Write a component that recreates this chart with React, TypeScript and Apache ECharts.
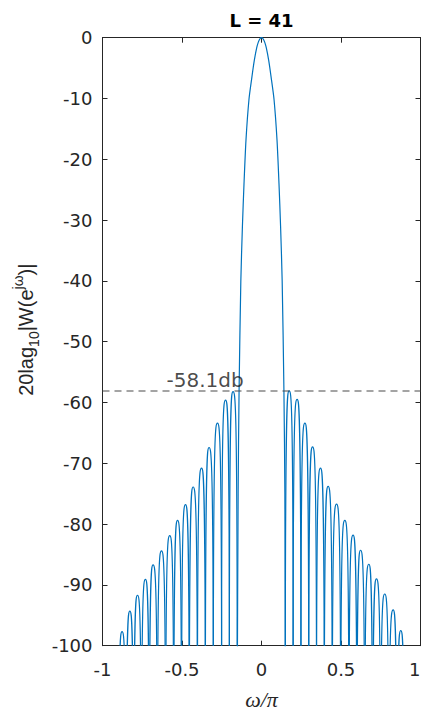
import React, { useEffect, useRef } from "react";
import * as echarts from "echarts";

// ---- values ----
const TITLE = "L = 41";
const X_MIN = -1;
const X_MAX = 1;
const X_STEP = 0.5;
const Y_MIN = -100;
const Y_MAX = 0;
const Y_STEP = 10;

// main lobe (omega/pi, dB)
const mainLobeX = [-0.153, -0.147, -0.141, -0.13, -0.12, -0.11, -0.0975, -0.079, -0.06, -0.045, -0.03, -0.02, -0.01, 0, 0.01, 0.02, 0.03, 0.045, 0.06, 0.079, 0.0975, 0.11, 0.12, 0.13, 0.141, 0.147, 0.15];
const mainLobeDb = [-112, -75, -58, -40, -31, -24, -16.8, -10.2, -6.4, -3.7, -1.65, -0.73, -0.18, 0, -0.18, -0.73, -1.65, -3.7, -6.4, -10.2, -16.8, -24, -31, -40, -58, -75, -112];

// right side lobes
const rightNullX = [0.15, 0.199, 0.248, 0.297, 0.346, 0.395, 0.445, 0.498, 0.55, 0.6, 0.649, 0.699, 0.749, 0.801, 0.852, 0.9];
const rightPeakX = [0.174, 0.224, 0.273, 0.321, 0.371, 0.419, 0.472, 0.524, 0.576, 0.623, 0.675, 0.723, 0.775, 0.828, 0.876];
const rightPeakDb = [-58.1, -59.5, -63.4, -67.3, -70.8, -73.8, -76.7, -79.4, -81.8, -84.3, -86.6, -89.0, -91.5, -94.1, -97.5];

// left side lobes
const leftNullX = [-0.153, -0.202, -0.251, -0.303, -0.353, -0.403, -0.454, -0.503, -0.552, -0.603, -0.655, -0.706, -0.755, -0.804, -0.852, -0.901];
const leftPeakX = [-0.179, -0.226, -0.277, -0.33, -0.377, -0.43, -0.478, -0.528, -0.577, -0.629, -0.682, -0.73, -0.78, -0.828, -0.877];
const leftPeakDb = [-58.2, -59.6, -63.4, -67.4, -70.8, -73.9, -76.8, -79.4, -81.9, -84.4, -86.7, -89.1, -91.7, -94.3, -97.7];

// reference level and its annotation
const REF_LEVEL = -58.1;
const REF_LABEL = "-58.1db";
const REF_LABEL_X = -0.597;
const REF_LABEL_Y = -56.3;

const LINE_COLOR = "#0072BD";
const AXIS_COLOR = "#262626";
const FONT = "DejaVu Sans";
const NAME_FONT = "Liberation Sans";

export default function App() {
  const ref = useRef<HTMLDivElement>(null);

  useEffect(() => {
    if (!ref.current) return;
    const chart = echarts.init(ref.current, undefined, { renderer: "svg" });

    const mainData = mainLobeX.map((x, i) => [x, mainLobeDb[i]]);
    const lobes: number[][] = [];
    for (let i = 0; i < rightPeakX.length; i++) {
      lobes.push([rightNullX[i], rightNullX[i + 1], rightPeakX[i], rightPeakDb[i]]);
    }
    for (let i = 0; i < leftPeakX.length; i++) {
      lobes.push([leftNullX[i + 1], leftNullX[i], leftPeakX[i], leftPeakDb[i]]);
    }

    const axisLine = { show: true, onZero: false, lineStyle: { color: AXIS_COLOR, width: 1 } };
    const axisTick = { show: true, inside: true, length: 5, lineStyle: { color: AXIS_COLOR } };

    const axisCommonX = {
      type: "value" as const,
      min: X_MIN,
      max: X_MAX,
      interval: X_STEP,
      axisLine,
      axisTick,
      splitLine: { show: false },
    };
    const axisCommonY = {
      type: "value" as const,
      min: Y_MIN,
      max: Y_MAX,
      interval: Y_STEP,
      axisLine,
      axisTick,
      splitLine: { show: false },
    };

    chart.setOption({
      animation: false,
      backgroundColor: "#ffffff",
      grid: {
        left: 102.5,
        right: 1.5,
        top: 37.7,
        bottom: 69.3,
        containLabel: false,
        outerBoundsMode: "none",
      },
      xAxis: [
        {
          ...axisCommonX,
          position: "bottom",
          name: "ω/π",
          nameLocation: "middle",
          nameGap: 43,
          nameTextStyle: { fontFamily: "Liberation Serif", fontStyle: "italic", fontSize: 22, color: AXIS_COLOR },
          axisLabel: {
            show: true,
            margin: 15,
            fontFamily: FONT,
            fontSize: 18,
            color: AXIS_COLOR,
            hideOverlap: false,
            alignMaxLabel: "right",
            formatter: (v: number) => String(v),
          },
        },
        {
          ...axisCommonX,
          position: "top",
          name: TITLE,
          nameLocation: "middle",
          nameGap: 8,
          nameTextStyle: { fontFamily: FONT, fontWeight: "bold", fontSize: 18, color: "#000" },
          axisLabel: { show: false },
        },
      ],
      yAxis: [
        {
          ...axisCommonY,
          position: "left",
          name: "{b|20lag}{s|10}{b||W(e}{p|jω}{b|)|}",
          nameLocation: "middle",
          nameRotate: 90,
          nameGap: 60,
          nameTextStyle: {
            color: AXIS_COLOR,
            fontFamily: NAME_FONT,
            fontSize: 20,
            padding: [0, 0, 0, 24],
            rich: {
              b: { fontFamily: NAME_FONT, fontSize: 20, lineHeight: 30, verticalAlign: "middle", color: AXIS_COLOR },
              s: { fontFamily: NAME_FONT, fontSize: 14, lineHeight: 13, verticalAlign: "bottom", color: AXIS_COLOR },
              p: { fontFamily: NAME_FONT, fontSize: 14, lineHeight: 13, verticalAlign: "top", color: AXIS_COLOR },
            },
          },
          axisLabel: {
            show: true,
            margin: 10,
            fontFamily: FONT,
            fontSize: 18,
            color: AXIS_COLOR,
          },
        },
        {
          ...axisCommonY,
          position: "right",
          axisLabel: { show: false },
        },
      ],
      series: [
        {
          type: "line",
          name: "main",
          data: mainData,
          showSymbol: false,
          symbol: "none",
          smooth: 0.25,
          clip: true,
          lineStyle: { color: LINE_COLOR, width: 1.2 },
          silent: true,
        },
        {
          type: "custom",
          name: "sidelobes",
          clip: true,
          silent: true,
          data: lobes,
          encode: { x: [0, 1, 2], y: 3 },
          renderItem: (params: any, api: any) => {
            const xl = api.value(0);
            const xr = api.value(1);
            const xp = api.value(2);
            const yp = api.value(3);
            const depth = yp - 45;
            const L = api.coord([xl, depth]);
            const R = api.coord([xr, depth]);
            const P = api.coord([xp, yp]);
            const hwL = P[0] - L[0];
            const hwR = R[0] - P[0];
            const d =
              `M${L[0]},${L[1]} ` +
              `C${L[0]},${P[1]} ${L[0] + 0.5 * hwL},${P[1]} ${P[0]},${P[1]} ` +
              `C${P[0] + 0.5 * hwR},${P[1]} ${R[0]},${P[1]} ${R[0]},${R[1]}`;
            return {
              type: "path",
              shape: { pathData: d },
              style: { fill: "none", stroke: LINE_COLOR, lineWidth: 1.2 },
            };
          },
        },
        {
          type: "line",
          name: "ref",
          data: [
            [X_MIN, REF_LEVEL],
            [X_MAX, REF_LEVEL],
          ],
          symbol: "none",
          silent: true,
          lineStyle: { color: "#4a4a4a", width: 1.1, type: [7, 5] },
          z: 3,
        },
        {
          type: "scatter",
          name: "label",
          data: [[REF_LABEL_X, REF_LABEL_Y]],
          symbolSize: 0,
          silent: true,
          label: {
            show: true,
            position: "right",
            distance: 0,
            formatter: REF_LABEL,
            fontFamily: FONT,
            fontSize: 20,
            color: "#1a1a1a",
          },
          z: 4,
        },
      ],
    });

    return () => chart.dispose();
  }, []);

  return (
    <div
      ref={ref}
      style={{ position: "fixed", left: 0, top: 0, width: 422, height: 715, background: "#fff" }}
    />
  );
}
